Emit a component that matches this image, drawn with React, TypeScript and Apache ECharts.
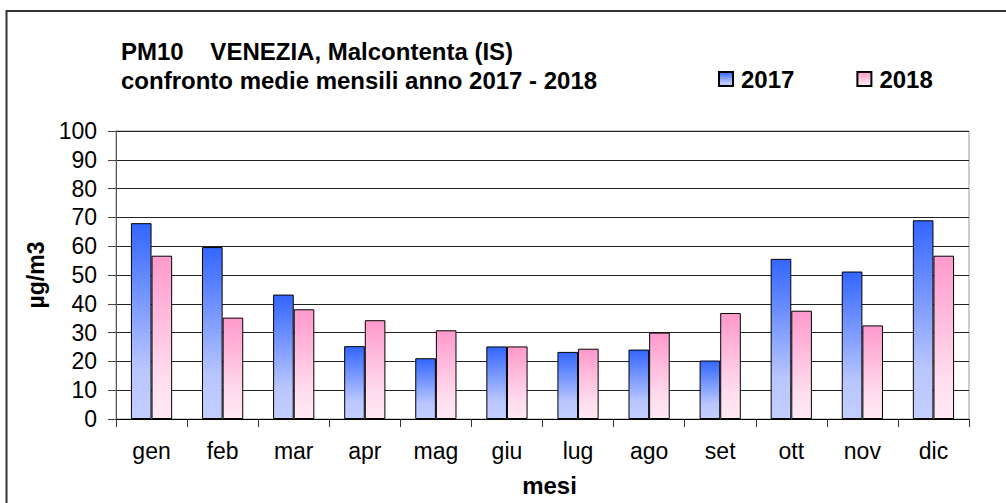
import React, { useEffect, useRef } from "react";
import * as echarts from "echarts";

const months = ["gen", "feb", "mar", "apr", "mag", "giu", "lug", "ago", "set", "ott", "nov", "dic"];
const values2017 = [68, 59.7, 43.2, 25.3, 21.1, 25.2, 23.3, 24.1, 20.3, 55.6, 51.2, 69.0];
const values2018 = [56.7, 35.2, 38.1, 34.3, 30.8, 25.2, 24.4, 30.0, 36.8, 37.6, 32.5, 56.7];
const seriesNames = ["2017", "2018"];
const titleLines = ["PM10    VENEZIA, Malcontenta (IS)", "confronto medie mensili anno 2017 - 2018"];
const yAxisName = "µg/m3";
const xAxisName = "mesi";

const FONT = "'Liberation Sans', Arial, Helvetica, sans-serif";

const blueGrad = new echarts.graphic.LinearGradient(0, 0, 0, 1, [
  { offset: 0, color: "#3366FF" },
  { offset: 0.75, color: "#B9C6FF" },
  { offset: 1, color: "#C3CEFF" },
]);
const pinkGrad = new echarts.graphic.LinearGradient(0, 0, 0, 1, [
  { offset: 0, color: "#FF99CC" },
  { offset: 0.75, color: "#FFDDEE" },
  { offset: 1, color: "#FFE8F3" },
]);

export default function App() {
  const ref = useRef<HTMLDivElement>(null);
  useEffect(() => {
    if (!ref.current) return;
    const chart = echarts.init(ref.current, undefined, { renderer: "svg" });
    chart.setOption({
      animation: false,
      backgroundColor: "#ffffff",
      title: {
        text: titleLines.join("\n"),
        left: 121,
        top: 37,
        padding: 0,
        textStyle: { fontFamily: FONT, fontSize: 24, fontWeight: "bold", color: "#000", lineHeight: 29 },
      },
      legend: {
        data: seriesNames,
        left: 718,
        top: 67,
        padding: 0,
        itemWidth: 14,
        itemHeight: 14,
        itemGap: 62,
        icon: "rect",
        textStyle: { fontFamily: FONT, fontSize: 24, fontWeight: "bold", color: "#000", padding: [0, 0, 0, 3] },
      },
      grid: { left: 116, right: 37, top: 131, bottom: 84, show: true, borderColor: "#9a9a9a", borderWidth: 1 },
      xAxis: {
        type: "category",
        data: months,
        name: xAxisName,
        nameLocation: "middle",
        nameGap: 54,
        nameTextStyle: { fontFamily: FONT, fontSize: 24, fontWeight: "bold", color: "#000", padding: [0, 0, 0, 14] },
        axisLine: { lineStyle: { color: "#000", width: 1 } },
        axisTick: { show: true, length: 8, interval: 0, lineStyle: { color: "#333" } },
        axisLabel: { fontFamily: FONT, fontSize: 23, color: "#000", margin: 20, interval: 0 },
      },
      yAxis: {
        type: "value",
        min: 0,
        max: 100,
        interval: 10,
        name: yAxisName,
        nameLocation: "middle",
        nameRotate: 90,
        nameGap: 68,
        nameTextStyle: { fontFamily: FONT, fontSize: 23, fontWeight: "bold", color: "#000" },
        axisLine: { show: true, lineStyle: { color: "#555", width: 1 } },
        axisTick: { show: true, length: 8, lineStyle: { color: "#444" } },
        axisLabel: { fontFamily: FONT, fontSize: 23, color: "#000", margin: 19 },
        splitLine: { lineStyle: { color: "#222", width: 1 } },
      },
      series: [
        {
          name: seriesNames[0],
          type: "bar",
          data: values2017,
          barGap: "0%",
          barCategoryGap: "42%",
          itemStyle: { color: blueGrad, borderColor: "#000", borderWidth: 1 },
        },
        {
          name: seriesNames[1],
          type: "bar",
          data: values2018,
          barGap: "0%",
          barCategoryGap: "42%",
          itemStyle: { color: pinkGrad, borderColor: "#000", borderWidth: 1 },
        },
      ],
      graphic: [
        {
          type: "rect",
          shape: { x: 6.5, y: 11, width: 1020, height: 520 },
          style: { fill: "none", stroke: "#333", lineWidth: 2 },
          silent: true,
        },
      ],
    });
    return () => chart.dispose();
  }, []);
  return (
    <div
      ref={ref}
      style={{ position: "fixed", left: 0, top: 0, width: 1006, height: 503 }}
    />
  );
}
